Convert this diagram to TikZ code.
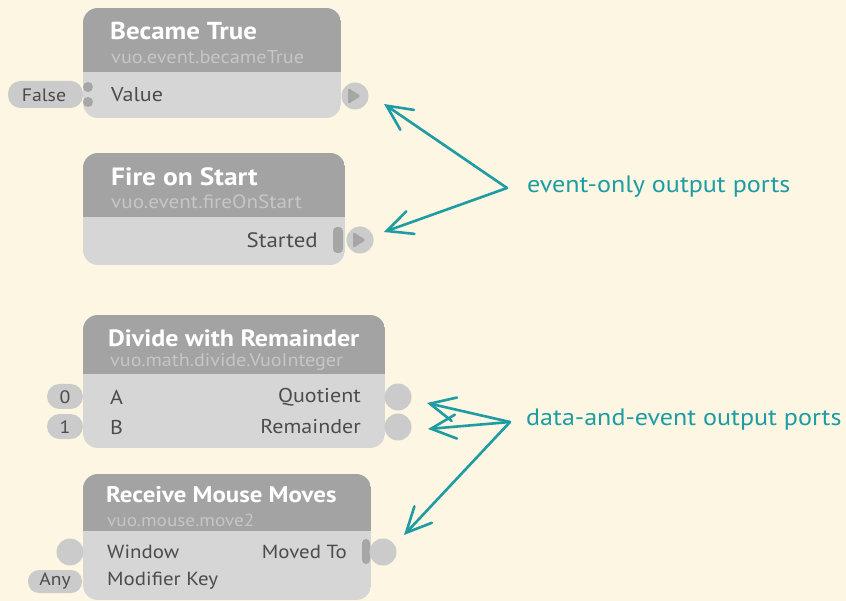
\documentclass[tikz,border=0pt]{standalone}
\usepackage{fontspec}
\setmainfont{PT Sans}[FakeStretch=1.1]
\usetikzlibrary{arrows.meta}
\definecolor{bg}{HTML}{FDF6E3}
\definecolor{hdr}{HTML}{A3A3A3}
\definecolor{bdy}{HTML}{D6D6D6}
\definecolor{subc}{HTML}{C6C6C6}
\definecolor{txt}{HTML}{4C4C4C}
\definecolor{pillc}{HTML}{CBCBCB}
\definecolor{dotc}{HTML}{A6A6A6}
\definecolor{tealc}{HTML}{1E9CA3}
\newcommand\vuobox[5]{%
  \begin{scope}
    \clip[rounded corners=15] (#1,#2) rectangle (#3,#5);
    \fill[bdy] (#1,#2) rectangle (#3,#5);
    \fill[hdr] (#1,#2) rectangle (#3,#4);
  \end{scope}}
\newcommand\fs[1]{\fontsize{#1}{#1}\selectfont}
\tikzset{
  ttl/.style={anchor=west, inner sep=0, text=white, font=\bfseries\fs{24.5}},
  subt/.style={anchor=west, inner sep=0, text=subc, font=\fs{18.5}},
  plab/.style={inner sep=0, text=txt, font=\fs{20}},
  pillbox/.style={rounded corners=12.5, fill=pillc},
  pilltxt/.style={inner sep=0, text=txt, font=\fs{18}},
  outport/.style={circle, fill=pillc, minimum size=27, inner sep=0},
  evbar/.style={fill=dotc, rounded corners=4},
  call/.style={line width=2.6, draw=tealc, line cap=round, line join=round, -{Straight Barb[length=25pt,width=24pt,line cap=round]}},
  calltxt/.style={anchor=west, inner sep=0, text=tealc, font=\fs{23.7}}
}
\begin{document}
\begin{tikzpicture}[x=1pt,y=-1pt]
\fill[bg] (0,0) rectangle (846,601);
\useasboundingbox (0,0) rectangle (846,601);

% Became True
\vuobox{83}{8}{341}{72}{118}
\node[ttl] (t1) at (110,31) {Became True};
\node[subt] (s1) at (111,57) {vuo.event.becameTrue};
\node[plab, anchor=west] (v1) at (111,95) {Value};
\fill[pillbox] (8,81) rectangle (83,108);
\node[pilltxt] (f1) at (44,95) {False};
\fill[dotc] (88,87) circle (5);
\fill[dotc] (88,102) circle (5);
\node[outport] (o1) at (355,96) {};
\fill[dotc, rounded corners=1.5] (348,88) -- (361,96) -- (348,104) -- cycle;

% Fire on Start
\vuobox{83}{153}{345}{217}{265}
\node[ttl, font=\bfseries\fs{25}] (t2) at (111,177) {Fire on Start};
\node[subt, font=\fs{19.2}] (s2) at (111,202) {vuo.event.fireOnStart};
\node[plab, anchor=east, font=\fs{20.8}] (v2) at (318,240) {Started};
\fill[evbar] (333,227) rectangle (343,253);
\node[outport] (o2) at (360,240) {};
\fill[dotc, rounded corners=1.5] (353,232) -- (366,240) -- (353,248) -- cycle;

% Divide with Remainder
\vuobox{83}{315}{385}{374}{448}
\node[ttl, font=\bfseries\fs{23.6}] (t3) at (108,338) {Divide with Remainder};
\node[subt, font=\fs{18.3}] (s3) at (110,362) {vuo.math.divide.VuoInteger};
\node[plab, anchor=west] (a3) at (110,397) {A};
\node[plab, anchor=west] (b3) at (110,427) {B};
\node[plab, anchor=east] (q3) at (361,397) {Quotient};
\node[plab, anchor=east] (r3) at (361,427) {Remainder};
\fill[pillbox] (47,384) rectangle (83,409);
\fill[pillbox] (47,414) rectangle (83,439);
\node[pilltxt] (z3) at (65,397) {0};
\node[pilltxt] (n3) at (65,427) {1};
\node[outport] (oq) at (398,397) {};
\node[outport] (or) at (398,427) {};

% Receive Mouse Moves
\vuobox{83}{474}{371}{531}{600}
\node[ttl, font=\bfseries\fs{22.6}] (t4) at (106,495) {Receive Mouse Moves};
\node[subt, font=\fs{17.5}] (s4) at (107,520) {vuo.mouse.move2};
\node[plab, anchor=west, font=\fs{19}] (w4) at (107,552) {Window};
\node[plab, anchor=west, font=\fs{19}] (m4) at (107,581) {Modifier Key};
\node[plab, anchor=east, font=\fs{19}] (mt4) at (347,552) {Moved To};
\node[outport] (iw) at (70,552) {};
\fill[pillbox, rounded corners=11] (28,570) rectangle (82,593);
\node[pilltxt, font=\fs{17.8}] (any) at (55,581) {Any};
\fill[evbar] (362,539) rectangle (370,564);
\node[outport] (om) at (383,552) {};

% callouts
\node[calltxt] (ev) at (527,187) {event-only output ports};
\node[calltxt] (de) at (526,420) {data-and-event output ports};
\coordinate (evv) at (507,188);
\coordinate (dev) at (510,422);
\coordinate (tip1) at (384,104);
\coordinate (tip2) at (384,232);
\coordinate (tip3) at (427,403);
\coordinate (tip4) at (428,429);
\coordinate (tip5) at (404,535);
\draw[call] (evv) -- (tip1);
\draw[call] (evv) -- (tip2);
\draw[call] (dev) -- (tip3);
\draw[call] (dev) -- (tip4);
\draw[call] (dev) -- (tip5);
\end{tikzpicture}
\end{document}
